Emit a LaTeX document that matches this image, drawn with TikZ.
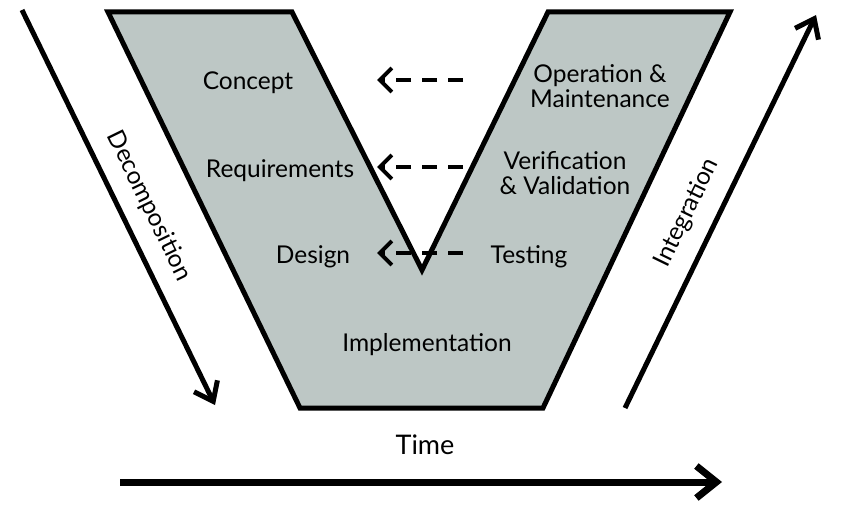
\documentclass[tikz,border=0pt]{standalone}
\usepackage{fontspec}
\setmainfont{Lato}
\usetikzlibrary{arrows.meta}
\definecolor{vgray}{RGB}{189,199,197}
\tikzset{
  phase/.style={font=\fontsize{24.5}{25}\selectfont, align=center, inner sep=0pt},
  flow/.style={line width=5, -{Straight Barb[length=17,width=26,line width=5]}},
  back/.style={line width=4, dash pattern=on 15 off 11, -{Straight Barb[length=12,width=24,line width=4]}},
}

\begin{document}
\begin{tikzpicture}[x=1pt,y=-1pt]
				\useasboundingbox (0,0) rectangle (844,511);
				
				\draw[line width=5, fill=vgray] (108,12) -- (292,12) -- (422,270) -- (548,12) -- (730,12) -- (543,408) -- (300,408) -- cycle;
				
				\node[phase] (concept) at (248,83) {Concept};
				\node[phase] (req) at (280,171) {Requirements};
				\node[phase] (design) at (313,257) {Design};
				\node[phase] (impl) at (427,345) {Implementation};
				\node[phase] (opmaint) at (600,86) {Operation \&\\Maintenance};
				\node[phase] (verval) at (565,173) {Verification\\\& Validation};
				\node[phase] (testing) at (529,257) {Testing};
				
				\coordinate (opmaintA) at (463,80);
				\coordinate (conceptA) at (377,80);
				\coordinate (vervalA) at (463,167);
				\coordinate (reqA) at (377,167);
				\coordinate (testingA) at (463,253);
				\coordinate (designA) at (377,253);
				\draw[back] (opmaintA) -- (conceptA);
				\draw[back] (vervalA) -- (reqA);
				\draw[back] (testingA) -- (designA);
				
				\coordinate (decompS) at (22,10);
				\coordinate (decompE) at (215,405);
				\draw[flow] (decompS) -- (decompE);
				\node[phase, rotate=-64] (decomp) at (149,206) {Decomposition};
				
				\coordinate (integS) at (625,408);
				\coordinate (integE) at (816,15);
				\draw[flow] (integS) -- (integE);
				\node[phase, rotate=64] (integ) at (687,213) {Integration};
				
				\node[phase, font=\fontsize{27}{30}\selectfont] (time) at (425,445) {Time};
				\coordinate (timeS) at (120,482);
				\coordinate (timeE) at (722,482);
				\draw[line width=7, -{Straight Barb[length=20,width=32,line width=7]}] (timeS) -- (timeE);
			\end{tikzpicture}
\end{document}
